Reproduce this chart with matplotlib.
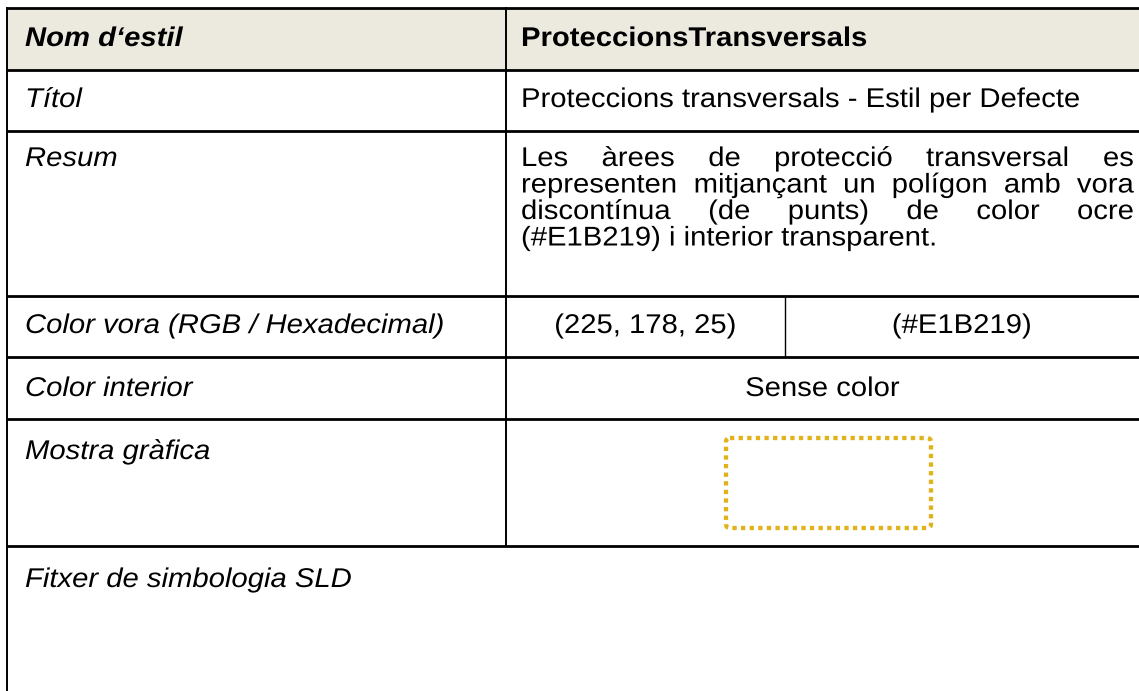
import matplotlib
matplotlib.use("Agg")
import matplotlib.pyplot as plt
from matplotlib.patches import Rectangle, FancyBboxPatch
from matplotlib.patheffects import AbstractPathEffect
from matplotlib.transforms import Affine2D

plt.rcParams['font.family'] = ['Liberation Sans', 'DejaVu Sans']

W, H = 1139, 691

# table content
header_label = "Nom d‘estil"
header_value = "ProteccionsTransversals"
row_labels = ["Títol", "Resum", "Color vora (RGB / Hexadecimal)",
              "Color interior", "Mostra gràfica", "Fitxer de simbologia SLD"]
titol_value = "Proteccions transversals - Estil per Defecte"
resum_lines = ["Les àrees de protecció transversal es",
               "representen mitjançant un polígon amb vora",
               "discontínua (de punts) de color ocre",
               "(#E1B219) i interior transparent."]
rgb_value = "(225, 178, 25)"
hex_value = "(#E1B219)"
interior_value = "Sense color"
sample_color = "#E1B219"

# layout (pixels)
row_y = [8, 70, 131, 296, 357, 419, 546, 700]
x_left, x_mid, x_split, x_right = 7, 506, 785, 1145
fs = 19.5
sx = 1.08   # the source text is a bit wider than plain Arial
header_bg = "#ECE9DF"


class HStretch(AbstractPathEffect):
    """widen glyphs horizontally around a fixed x (display px)"""
    def __init__(self, sx, x0):
        super().__init__()
        self.sx = sx
        self.x0 = x0

    def draw_path(self, renderer, gc, tpath, affine, rgbFace=None):
        st = Affine2D().translate(-self.x0, 0).scale(self.sx, 1).translate(self.x0, 0)
        renderer.draw_path(gc, tpath, affine + st, rgbFace)


fig = plt.figure(figsize=(W / 100, H / 100), dpi=100)
ax = fig.add_axes([0, 0, 1, 1])
ax.set_xlim(0, W)
ax.set_ylim(H, 0)
ax.axis('off')


def put(x, y, s, ha='left', **kw):
    x0 = ax.transData.transform((x, y))[0]
    return ax.text(x, y, s, fontsize=fs, va='center', ha=ha,
                   path_effects=[HStretch(sx, x0)], **kw)


# header background
ax.add_patch(Rectangle((x_left, row_y[0]), x_right - x_left, row_y[1] - row_y[0],
                       facecolor=header_bg, edgecolor='none'))

# grid lines
for y in row_y[:-1]:
    ax.plot([x_left, x_right], [y, y], color='black', lw=2.0, solid_capstyle='butt')
ax.plot([x_left, x_left], [row_y[0], H], color='black', lw=1.4)
ax.plot([x_mid, x_mid], [row_y[0], row_y[6]], color='black', lw=1.4)
ax.plot([x_split, x_split], [row_y[3], row_y[4]], color='black', lw=1.0)

lx, rx = 25, 521

# header
put(lx, 39, header_label, fontweight='bold', fontstyle='italic')
put(rx, 39, header_value, fontweight='bold')

# left column labels
label_y = [100, 159, 326, 389, 452, 580]
for lab, y in zip(row_labels, label_y):
    put(lx, y, lab, fontstyle='italic')

# right column values
put(rx, 100, titol_value)
put((x_mid + x_split) / 2, 326, rgb_value, ha='center')
put((x_split + 1139) / 2, 326, hex_value, ha='center')
put((x_mid + 1139) / 2, 389, interior_value, ha='center')

# justified paragraph
renderer = fig.canvas.get_renderer()
x0, x1 = rx, 1134
line_y0, line_step = 159, 26.5
for i, line in enumerate(resum_lines):
    y = line_y0 + i * line_step
    words = line.split(' ')
    if i == len(resum_lines) - 1:
        put(x0, y, line)
        continue
    widths = []
    for w in words:
        t = ax.text(0, 0, w, fontsize=fs)
        widths.append(t.get_window_extent(renderer).width * sx)
        t.remove()
    gap = (x1 - x0 - sum(widths)) / (len(words) - 1)
    x = x0
    for w, wd in zip(words, widths):
        put(x, y, w)
        x += wd + gap

# sample symbol: dotted rectangle
ax.add_patch(FancyBboxPatch((726, 438), 205, 90, boxstyle="round,pad=0,rounding_size=4",
                            facecolor='none', edgecolor=sample_color, lw=3.1,
                            linestyle=(0, (1, 1))))

fig.savefig("out.png", dpi=100, facecolor='white')
